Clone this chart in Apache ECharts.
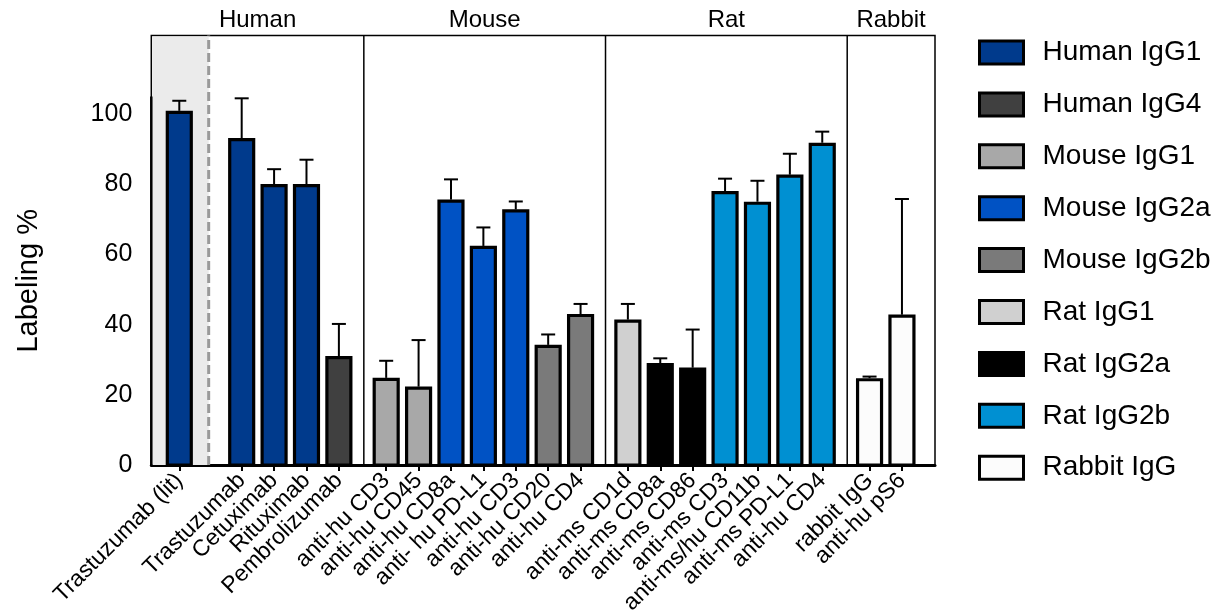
<!DOCTYPE html>
<html>
<head>
<meta charset="utf-8">
<title>Labeling %</title>
<script src="https://cdn.jsdelivr.net/npm/echarts@6/dist/echarts.min.js"></script>
<style>
html, body { margin: 0; height: 100%; background: #fff; }
#main { width: 1229px; height: 615px; }
</style>
</head>
<body>
<div id="main"></div>
<script>
var labels = ['Trastuzumab (lit)', 'Trastuzumab', 'Cetuximab', 'Rituximab', 'Pembrolizumab',
  'anti-hu CD3', 'anti-hu CD45', 'anti-hu CD8a', 'anti- hu PD-L1', 'anti-hu CD3', 'anti-hu CD20', 'anti-hu CD4',
  'anti-ms CD1d', 'anti-ms CD8a', 'anti-ms CD86', 'anti-ms CD3', 'anti-ms/hu CD11b', 'anti-ms PD-L1', 'anti-hu CD4',
  'rabbit IgG', 'anti-hu pS6'];
var values = [100.5, 92.7, 79.6, 79.6, 30.6, 24.4, 21.9, 75.2, 62, 72.4, 33.8, 42.6,
  41, 28.6, 27.3, 77.6, 74.6, 82.3, 91.4, 24.3, 42.4];
var errors = [3.3, 11.8, 4.7, 7.4, 9.6, 5.3, 13.7, 6.2, 5.7, 2.7, 3.4, 3.3,
  4.9, 1.8, 11.3, 4, 6.4, 6.4, 3.6, 0.9, 33.4];
var isotype = [0, 0, 0, 0, 1, 2, 2, 3, 3, 3, 4, 4, 5, 6, 6, 7, 7, 7, 7, 8, 8];
var isotypes = ['Human IgG1', 'Human IgG4', 'Mouse IgG1', 'Mouse IgG2a', 'Mouse IgG2b',
  'Rat IgG1', 'Rat IgG2a', 'Rat IgG2b', 'Rabbit IgG'];
var isoColors = ['#003a8c', '#404040', '#a8a8a8', '#0052c4', '#7a7a7a',
  '#d0d0d0', '#000000', '#0090d2', '#fcfcfc'];
var groups = ['Human', 'Mouse', 'Rat', 'Rabbit'];
var groupLast = [4, 11, 18, 20];   // index of last bar in each group
var yTicks = [0, 20, 40, 60, 80, 100];

var FONT = '"Liberation Sans", Arial, Helvetica, sans-serif';

// x positions: one slot per bar, extra space after the literature bar and between groups
var pos = [];
var xx = 0;
labels.forEach(function (l, i) {
  pos.push(xx);
  xx += 1;
  if (i === 0) xx += 0.926;
  else if (groupLast.indexOf(i) >= 0) xx += 0.46;
});
var xMin = -0.864;
var xMax = pos[pos.length - 1] + 1.02;
var yMax = 122.4;
var litSep = pos[0] + 0.907;
var seps = [groupLast[0], groupLast[1], groupLast[2]].map(function (i) { return pos[i] + 0.77; });

var myChart = echarts.init(document.getElementById('main'));

function renderBar(params, api) {
  var x = api.value(0), v = api.value(1), e = api.value(2);
  var base = api.coord([x, 0]);
  var top = api.coord([x, v]);
  var errTop = api.coord([x, v + e]);
  var w = api.size([0.74, 0])[0];
  var cap = 14;
  return {
    type: 'group',
    children: [
      { type: 'rect', shape: { x: top[0] - w / 2, y: top[1], width: w, height: base[1] - top[1] },
        style: { fill: api.visual('color'), stroke: '#000', lineWidth: 3.2 } },
      { type: 'line', shape: { x1: top[0], y1: top[1] - 1.5, x2: errTop[0], y2: errTop[1] },
        style: { stroke: '#000', lineWidth: 2 } },
      { type: 'line', shape: { x1: top[0] - cap / 2, y1: errTop[1], x2: top[0] + cap / 2, y2: errTop[1] },
        style: { stroke: '#000', lineWidth: 2 } }
    ]
  };
}

function renderDecor(params, api) {
  var tl = api.coord([xMin, yMax]);
  var br = api.coord([xMax, 0]);
  var kids = [];
  var litX = api.coord([litSep, 0])[0];
  kids.push({ type: 'rect', shape: { x: tl[0] + 1, y: tl[1] + 1, width: litX - tl[0] - 1, height: br[1] - tl[1] - 1 },
    style: { fill: '#ebebeb' } });
  kids.push({ type: 'line', shape: { x1: litX, y1: br[1], x2: litX, y2: tl[1] },
    style: { stroke: '#9a9a9a', lineWidth: 3, lineDash: [9, 4] } });
  seps.forEach(function (s) {
    var sx = api.coord([s, 0])[0];
    kids.push({ type: 'line', shape: { x1: sx, y1: br[1], x2: sx, y2: tl[1] },
      style: { stroke: '#000', lineWidth: 1.5 } });
  });
  var bounds = [xMin].concat(seps).concat([xMax]);
  groups.forEach(function (g, i) {
    var cx = (api.coord([bounds[i], 0])[0] + api.coord([bounds[i + 1], 0])[0]) / 2;
    kids.push({ type: 'text', x: cx, y: tl[1] - 15,
      style: { text: g, fill: '#000', font: '24px ' + FONT, align: 'center', verticalAlign: 'middle' } });
  });
  var axTop = api.coord([xMin, 105]);
  kids.push({ type: 'line', shape: { x1: tl[0], y1: br[1], x2: tl[0], y2: axTop[1] },
    style: { stroke: '#000', lineWidth: 2.5 } });
  var mid = api.coord([xMin, 52.5]);
  kids.push({ type: 'text', x: tl[0] - 122, y: mid[1], rotation: Math.PI / 2,
    style: { text: 'Labeling %', fill: '#000', font: '29px ' + FONT, align: 'center', verticalAlign: 'middle' } });
  return { type: 'group', children: kids };
}

var series = [{
  name: 'decor',
  type: 'custom',
  silent: true,
  z: 1,
  clip: false,
  renderItem: renderDecor,
  encode: { x: 0, y: 1 },
  data: [[0, 0]]
}];

isotypes.forEach(function (name, k) {
  var d = [];
  for (var i = 0; i < labels.length; i++) {
    if (isotype[i] === k) d.push([pos[i], values[i], errors[i]]);
  }
  series.push({
    name: name,
    type: 'custom',
    z: 3,
    renderItem: renderBar,
    itemStyle: { color: isoColors[k] },
    encode: { x: 0, y: 1 },
    data: d
  });
});

var option = {
  animation: false,
  backgroundColor: '#fff',
  textStyle: { fontFamily: FONT },
  grid: {
    left: 151.3, right: 294, top: 35.5, bottom: 150,
    outerBoundsMode: 'none',
    show: true, borderColor: '#000', borderWidth: 1.5, backgroundColor: 'transparent'
  },
  legend: {
    orient: 'vertical',
    left: 978,
    top: 38.5,
    padding: 0,
    itemWidth: 44,
    itemHeight: 23,
    itemGap: 23.9,
    icon: 'rect',
    selectedMode: false,
    textStyle: { fontSize: 28, color: '#000', fontFamily: FONT, padding: [0, 0, 0, 14] },
    data: isotypes.map(function (n, k) {
      return { name: n, itemStyle: { color: isoColors[k], borderColor: '#000', borderWidth: 3 } };
    })
  },
  xAxis: {
    type: 'value',
    min: xMin,
    max: xMax,
    splitLine: { show: false },
    axisLine: { onZero: false, lineStyle: { color: '#000', width: 3 } },
    axisTick: { customValues: pos, length: 6, lineStyle: { color: '#000', width: 2 } },
    axisLabel: {
      customValues: pos,
      rotate: 45,
      margin: 12,
      fontSize: 23,
      color: '#000',
      fontFamily: FONT,
      formatter: function (v) {
        for (var i = 0; i < pos.length; i++) {
          if (Math.abs(pos[i] - v) < 1e-6) return labels[i];
        }
        return '';
      }
    }
  },
  yAxis: {
    type: 'value',
    min: 0,
    max: yMax,
    splitLine: { show: false },
    axisLine: { show: false },
    axisTick: { customValues: yTicks, length: 15, lineStyle: { color: '#000', width: 2 } },
    axisLabel: { customValues: yTicks, margin: 19, fontSize: 25, color: '#000', fontFamily: FONT }
  },
  series: series
};

myChart.setOption(option);
</script>
</body>
</html>
